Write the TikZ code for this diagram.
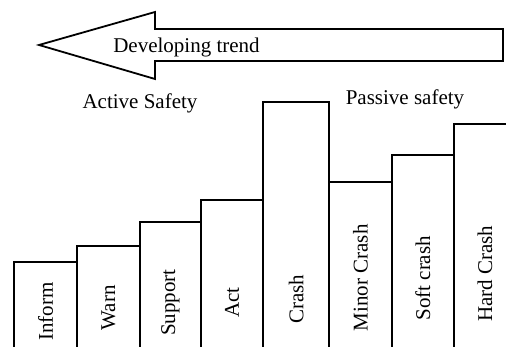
\documentclass[tikz,border=0pt]{standalone}
\usepackage{fontspec}
\setmainfont{Liberation Serif}
\usetikzlibrary{positioning}
\tikzset{
    bar/.style={rectangle,draw,line width=2pt,anchor=south west,inner sep=0pt,outer sep=0pt},
    tag/.style={rotate=90,font=\fontsize{21}{25}\selectfont,inner sep=0pt},
    heading/.style={font=\fontsize{21}{25}\selectfont,inner sep=0pt}
}

\begin{document}
\begin{tikzpicture}[x=1pt,y=1pt]

    \clip (0,0) rectangle (506,347);

    % trend arrow
    \draw[line width=1.8pt] (39,302) -- (155,335) -- (155,318) -- (503,318)
        -- (503,286) -- (155,286) -- (155,268) -- cycle;
    \node[heading] (trend)   at (186.5,300) {Developing trend};
    \node[heading] (active)  at (140,244)   {Active Safety};
    \node[heading] (passive) at (405,248)   {Passive safety};

    % steps
    \node[bar,minimum width=63pt,minimum height=105.3pt]   (inform) at (14,-20)            {};
    \node[bar,minimum width=62.7pt,minimum height=121.3pt] (warn)   at (inform.south east) {};
    \node[bar,minimum width=61.3pt,minimum height=145pt]   (support) at (warn.south east)  {};
    \node[bar,minimum width=62.3pt,minimum height=167pt]   (act)    at (support.south east) {};
    \node[bar,minimum width=65.7pt,minimum height=265.3pt] (crash)  at (act.south east)    {};
    \node[bar,minimum width=62.7pt,minimum height=185.3pt] (minor)  at (crash.south east)  {};
    \node[bar,minimum width=62.3pt,minimum height=211.7pt] (soft)   at (minor.south east)  {};
    \node[bar,minimum width=62pt,minimum height=243pt]     (hard)   at (soft.south east)   {};

    \node[tag] (inform label)  at ([yshift=55.3pt]inform.south)  {Inform};
    \node[tag] (warn label)    at ([yshift=59.2pt]warn.south)    {Warn};
    \node[tag] (support label) at ([yshift=64.3pt]support.south) {Support};
    \node[tag] (act label)     at ([yshift=64.5pt]act.south)     {Act};
    \node[tag] (crash label)   at ([yshift=67.8pt]crash.south)   {Crash};
    \node[tag] (minor label)   at ([yshift=89.2pt]minor.south)   {Minor Crash};
    \node[tag] (soft label)    at ([yshift=88.7pt]soft.south)    {Soft crash};
    \node[tag] (hard label)    at ([yshift=93.3pt]hard.south)    {Hard Crash};

\end{tikzpicture}
\end{document}
